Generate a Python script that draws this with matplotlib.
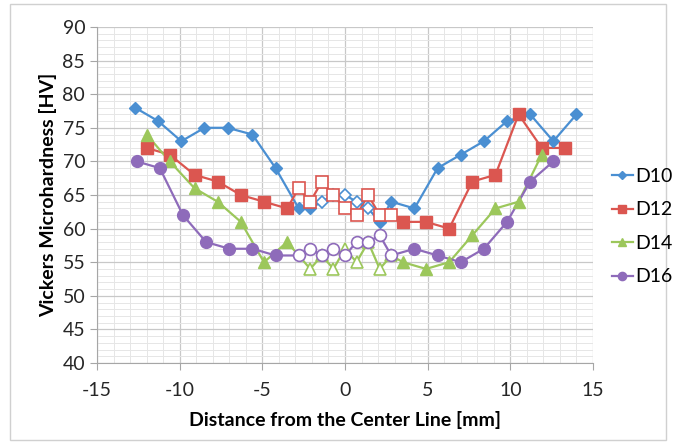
import numpy as np
import matplotlib
matplotlib.use("Agg")
import matplotlib.pyplot as plt
from matplotlib.ticker import MultipleLocator
from matplotlib.patches import Rectangle
from matplotlib.lines import Line2D

plt.rcParams['font.family'] = ['Lato', 'DejaVu Sans']
plt.rcParams['axes.unicode_minus'] = False

# data
d10_x = [-12.7, -11.3, -9.9, -8.5, -7.1, -5.6, -4.2, -2.8, -2.1, -1.4, -0.7, 0, 0.7, 1.4, 2.1, 2.8,
         4.2, 5.6, 7.0, 8.4, 9.8, 11.2, 12.6, 14.0]
d10_y = [78, 76, 73, 75, 75, 74, 69, 63, 63, 64, 65, 65, 64, 63, 61, 64,
         63, 69, 71, 73, 76, 77, 73, 77]
d10_open = [9, 10, 11, 12, 13]

d12_x = [-12.0, -10.6, -9.1, -7.7, -6.3, -4.9, -3.5, -2.8, -2.1, -1.4, -0.7, 0, 0.7, 1.4, 2.1, 2.8,
         3.5, 4.9, 6.3, 7.7, 9.1, 10.5, 11.9, 13.3]
d12_y = [72, 71, 68, 67, 65, 64, 63, 66, 64, 67, 65, 63, 62, 65, 62, 62,
         61, 61, 60, 67, 68, 77, 72, 72]
d12_open = [7, 8, 9, 10, 11, 12, 13, 14, 15]

d14_x = [-12.0, -10.6, -9.1, -7.7, -6.3, -4.9, -3.5, -2.1, -1.4, -0.7, 0, 0.7, 1.4, 2.1, 2.8,
         3.5, 4.9, 6.3, 7.7, 9.1, 10.5, 11.9]
d14_y = [74, 70, 66, 64, 61, 55, 58, 54, 56, 54, 57, 55, 58, 54, 56,
         55, 54, 55, 59, 63, 64, 71]
d14_open = [7, 8, 9, 10, 11, 12, 13, 14]

d16_x = [-12.6, -11.2, -9.8, -8.4, -7.0, -5.6, -4.2, -2.8, -2.1, -1.4, -0.7, 0, 0.7, 1.4, 2.1, 2.8,
         4.2, 5.6, 7.0, 8.4, 9.8, 11.2, 12.6]
d16_y = [70, 69, 62, 58, 57, 57, 56, 56, 57, 56, 57, 56, 58, 58, 59, 56,
         57, 56, 55, 57, 61, 67, 70]
d16_open = [7, 8, 9, 10, 11, 12, 13, 14, 15]

labels = ["D10", "D12", "D14", "D16"]

series = [
    (d10_x, d10_y, d10_open, "#4A8FD2", "D", 6.5),
    (d12_x, d12_y, d12_open, "#DB5650", "s", 8),
    (d14_x, d14_y, d14_open, "#9CC75B", "^", 8.5),
    (d16_x, d16_y, d16_open, "#8E6BBA", "o", 8.5),
]

fig = plt.figure(figsize=(6.74, 4.42), dpi=100)
ax = fig.add_axes([97 / 674, 1 - 363 / 442, 496 / 674, 336 / 442])

handles = []
for (xs, ys, opn, col, mk, ms), lab in zip(series, labels):
    xs = np.array(xs)
    ys = np.array(ys)
    ax.plot(xs, ys, color=col, lw=1.6, zorder=3)
    solid = np.ones(len(xs), bool)
    solid[opn] = False
    ax.plot(xs[solid], ys[solid], ls="none", marker=mk, ms=ms, color=col, mec=col, zorder=4)
    ax.plot(xs[~solid], ys[~solid], ls="none", marker=mk, ms=ms, mfc="white", mec=col,
            mew=1.2, zorder=4)
    handles.append(Line2D([0], [0], color=col, lw=1.6, marker=mk, ms=ms * 0.7, mec=col))

ax.set_xlim(-15, 15)
ax.set_ylim(40, 90)
ax.xaxis.set_major_locator(MultipleLocator(5))
ax.xaxis.set_minor_locator(MultipleLocator(1))
ax.yaxis.set_major_locator(MultipleLocator(5))
ax.yaxis.set_minor_locator(MultipleLocator(1))
ax.grid(which="major", color="#C8C8C8", lw=0.9, zorder=0)
ax.grid(which="minor", color="#E6E6E6", lw=0.7, zorder=0)
ax.set_axisbelow(True)
for s in ["top", "right"]:
    ax.spines[s].set_visible(False)
for s in ["left", "bottom"]:
    ax.spines[s].set_color("#A6A6A6")
ax.tick_params(which="major", length=5, color="#A6A6A6", labelsize=14, labelcolor="#262626")
ax.tick_params(which="minor", length=0)
ax.tick_params(axis="x", pad=9)
ax.set_xlabel("Distance from the Center Line [mm]", fontsize=14, fontweight="bold", labelpad=8)
ax.set_ylabel("Vickers Microhardness [HV]", fontsize=14, fontweight="bold", labelpad=4)

leg = fig.legend(handles, labels, loc="upper left", bbox_to_anchor=(604 / 674, 1 - 160 / 442),
                 frameon=False, fontsize=14, handlelength=1.1, handletextpad=0.1,
                 labelspacing=0.85, borderaxespad=0)

fig.patches.append(Rectangle((10 / 674, 2 / 442), 656 / 674, 436 / 442, transform=fig.transFigure,
                             fill=False, ec="#D0D0D0", lw=1))

fig.savefig("out.png", dpi=100)
